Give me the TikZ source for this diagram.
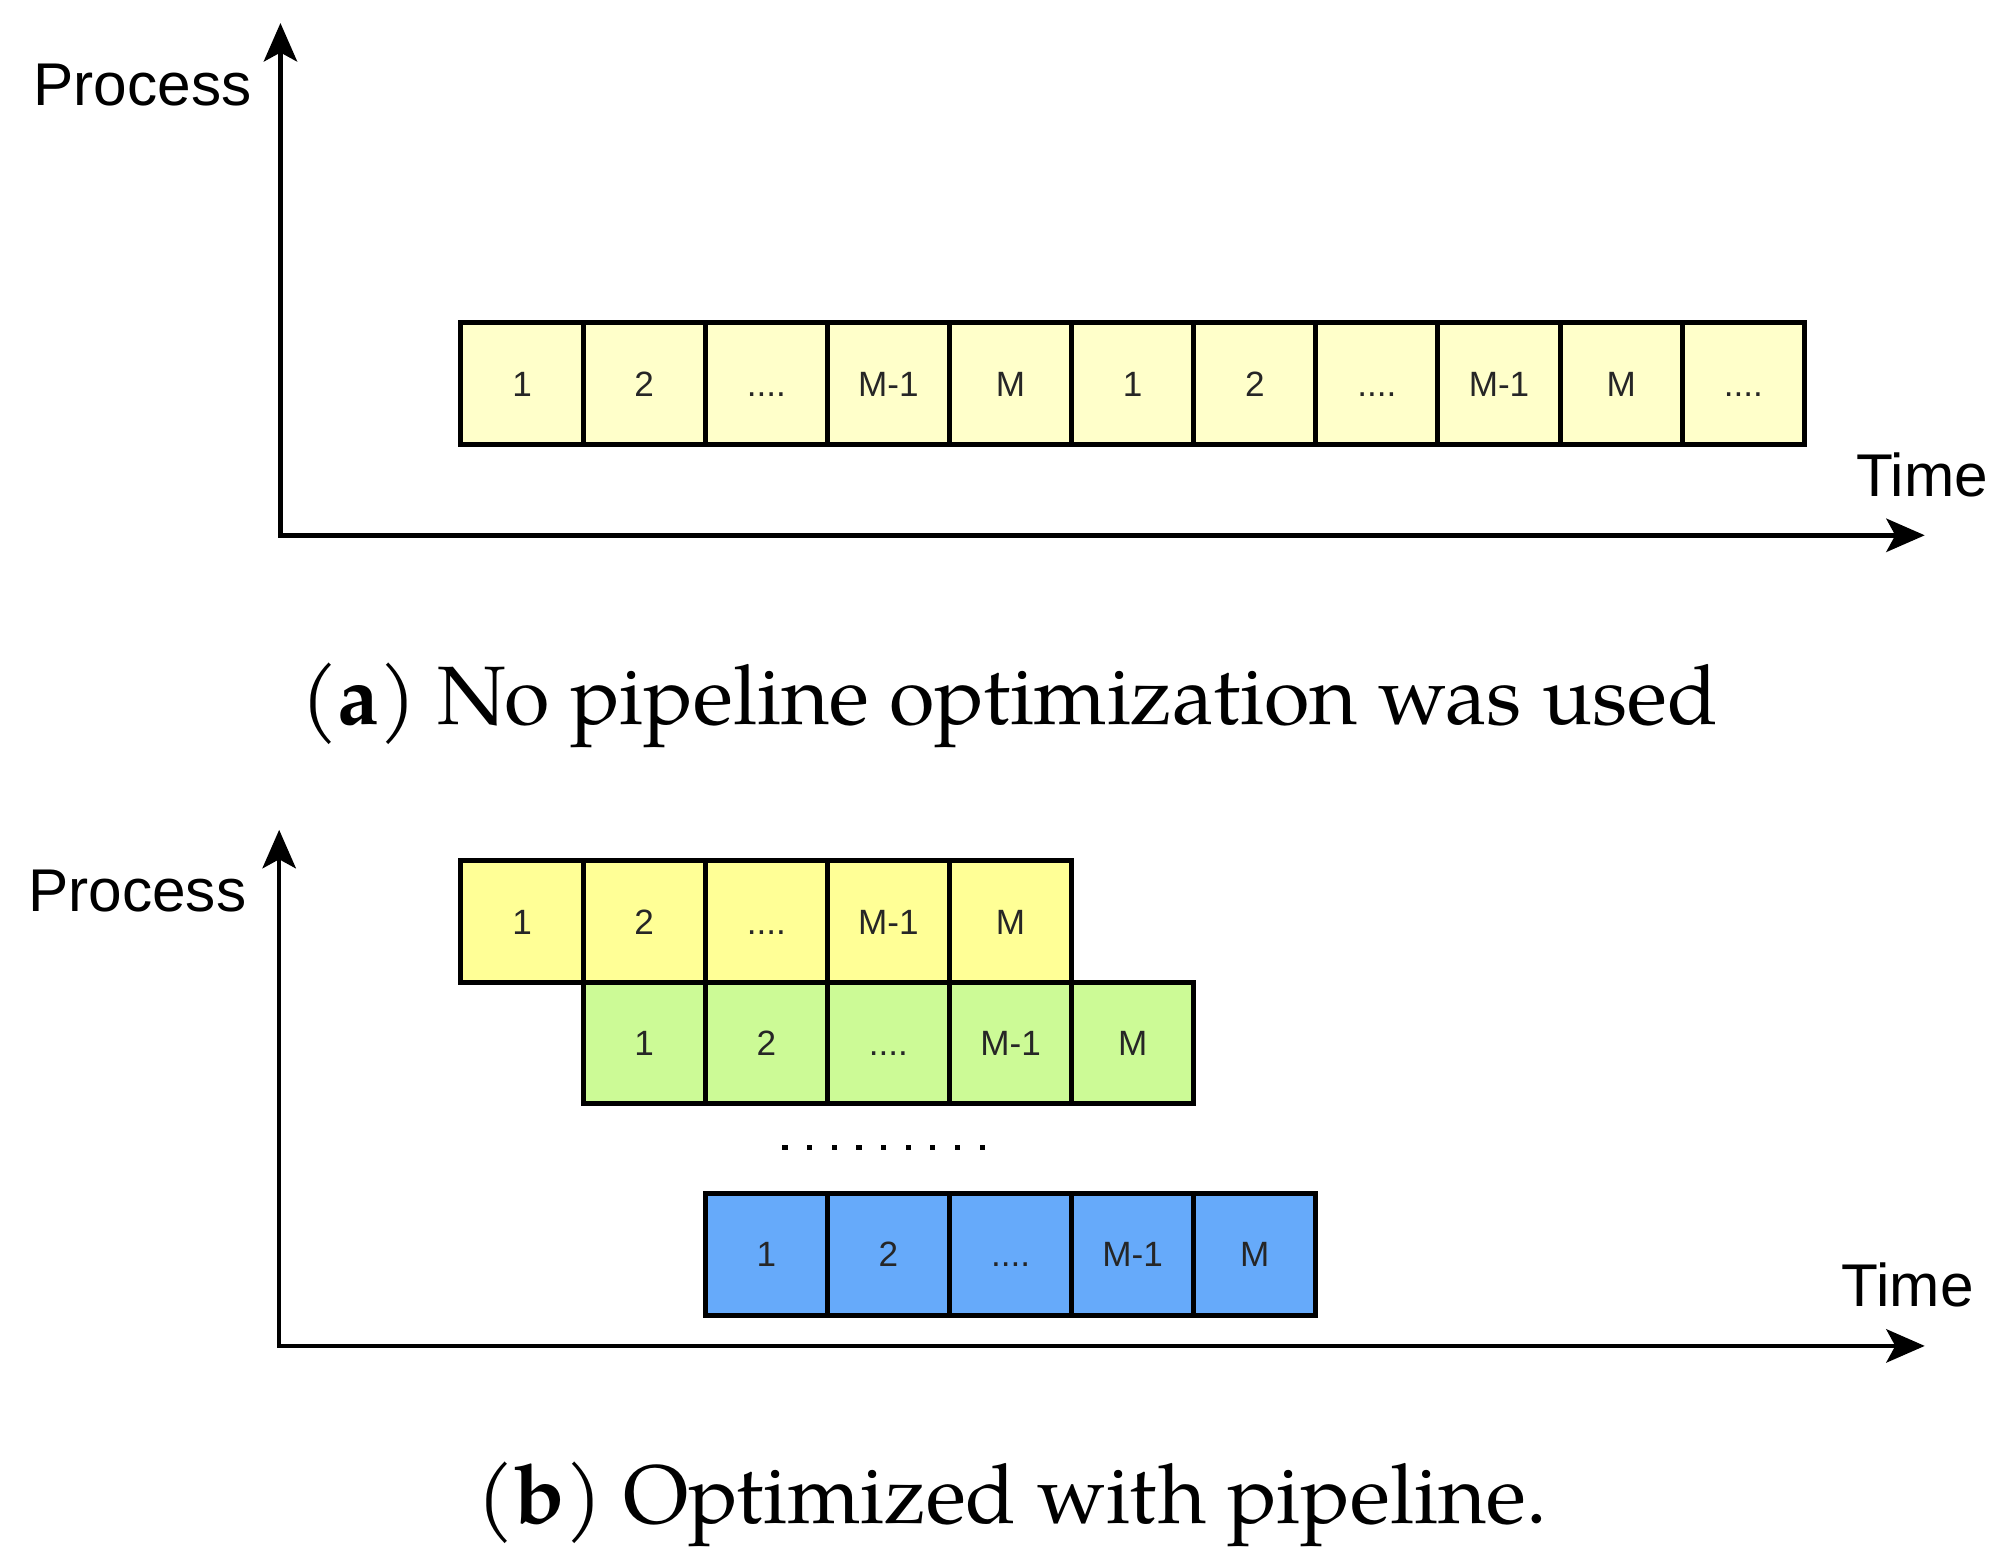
\documentclass[tikz,border=0pt]{standalone}
\usepackage{fontspec}
\setsansfont{Liberation Sans}
\newfontfamily\capfont{texgyrepagella}[Extension=.otf, UprightFont=*-regular, BoldFont=*-bold, ItalicFont=*-italic, BoldItalicFont=*-bolditalic]
\usetikzlibrary{arrows.meta}
\definecolor{paley}{RGB}{255,255,202}
\definecolor{yel}{RGB}{255,255,150}
\definecolor{grn}{RGB}{204,250,150}
\definecolor{blu}{RGB}{102,170,250}
\newcommand\dd{....}
\begin{document}
\begin{tikzpicture}[x=0.01cm,y=-0.01cm,
  cell/.style={draw=black, line width=1.1pt, minimum width=0.954cm, minimum height=0.95cm,
    inner sep=0pt, outer sep=0pt, font=\sffamily\fontsize{7.8}{9}\selectfont, text=black!85,
    text height=5.6pt, text depth=0pt},
  axis/.style={line width=1pt, {Stealth[length=0.3cm,width=0.26cm,inset=0.07cm]}-{Stealth[length=0.3cm,width=0.26cm,inset=0.07cm]}},
  lbl/.style={font=\sffamily\fontsize{13.4}{16}\selectfont, inner sep=0pt},
  captext/.style={font=\capfont\fontsize{18.4}{22}\selectfont, inner sep=0pt}]
\useasboundingbox (0,0) rectangle (1568,1221);
% ---------- panel (a)
\coordinate (o1) at (219,418);
\coordinate (y1) at (219,18);
\coordinate (x1) at (1503,418);
\draw[axis] (y1) -- (o1) -- (x1);
\node[lbl, anchor=base east] (p1) at (197,82) {Process};
\node[lbl, anchor=base east] (t1) at (1553,388) {Time};
\foreach \t [count=\i from 0] in {1,2,\dd,M-1,M,1,2,\dd,M-1,M,\dd}
  \node[cell, fill=paley] (a\i) at (407.68+95.36*\i,299.5) {\t};
\node[captext, anchor=base] (ca) at (788,566) {(\textbf{a}) No pipeline optimization was used};
% ---------- panel (b)
\coordinate (o2) at (218,1051);
\coordinate (y2) at (218,648);
\coordinate (x2) at (1503,1051);
\draw[axis] (y2) -- (o2) -- (x2);
\node[lbl, anchor=base east] (p2) at (193,712) {Process};
\node[lbl, anchor=base east] (t2) at (1542,1020) {Time};
\foreach \t [count=\i from 0] in {1,2,\dd,M-1,M}{
  \node[cell, fill=yel] (b\i) at (407.68+95.36*\i,719.5) {\t};
  \node[cell, fill=grn] (c\i) at (503.04+95.36*\i,814.5) {\t};
  \node[cell, fill=blu] (d\i) at (598.4+95.36*\i,979.5) {\t};
}
\foreach \k in {0,...,8}
  \fill (613+19.25*\k-2,894) rectangle (613+19.25*\k+2,898);
\node[captext, anchor=base] (cb) at (790,1190) {(\textbf{b}) Optimized with pipeline.};
\end{tikzpicture}
\end{document}
